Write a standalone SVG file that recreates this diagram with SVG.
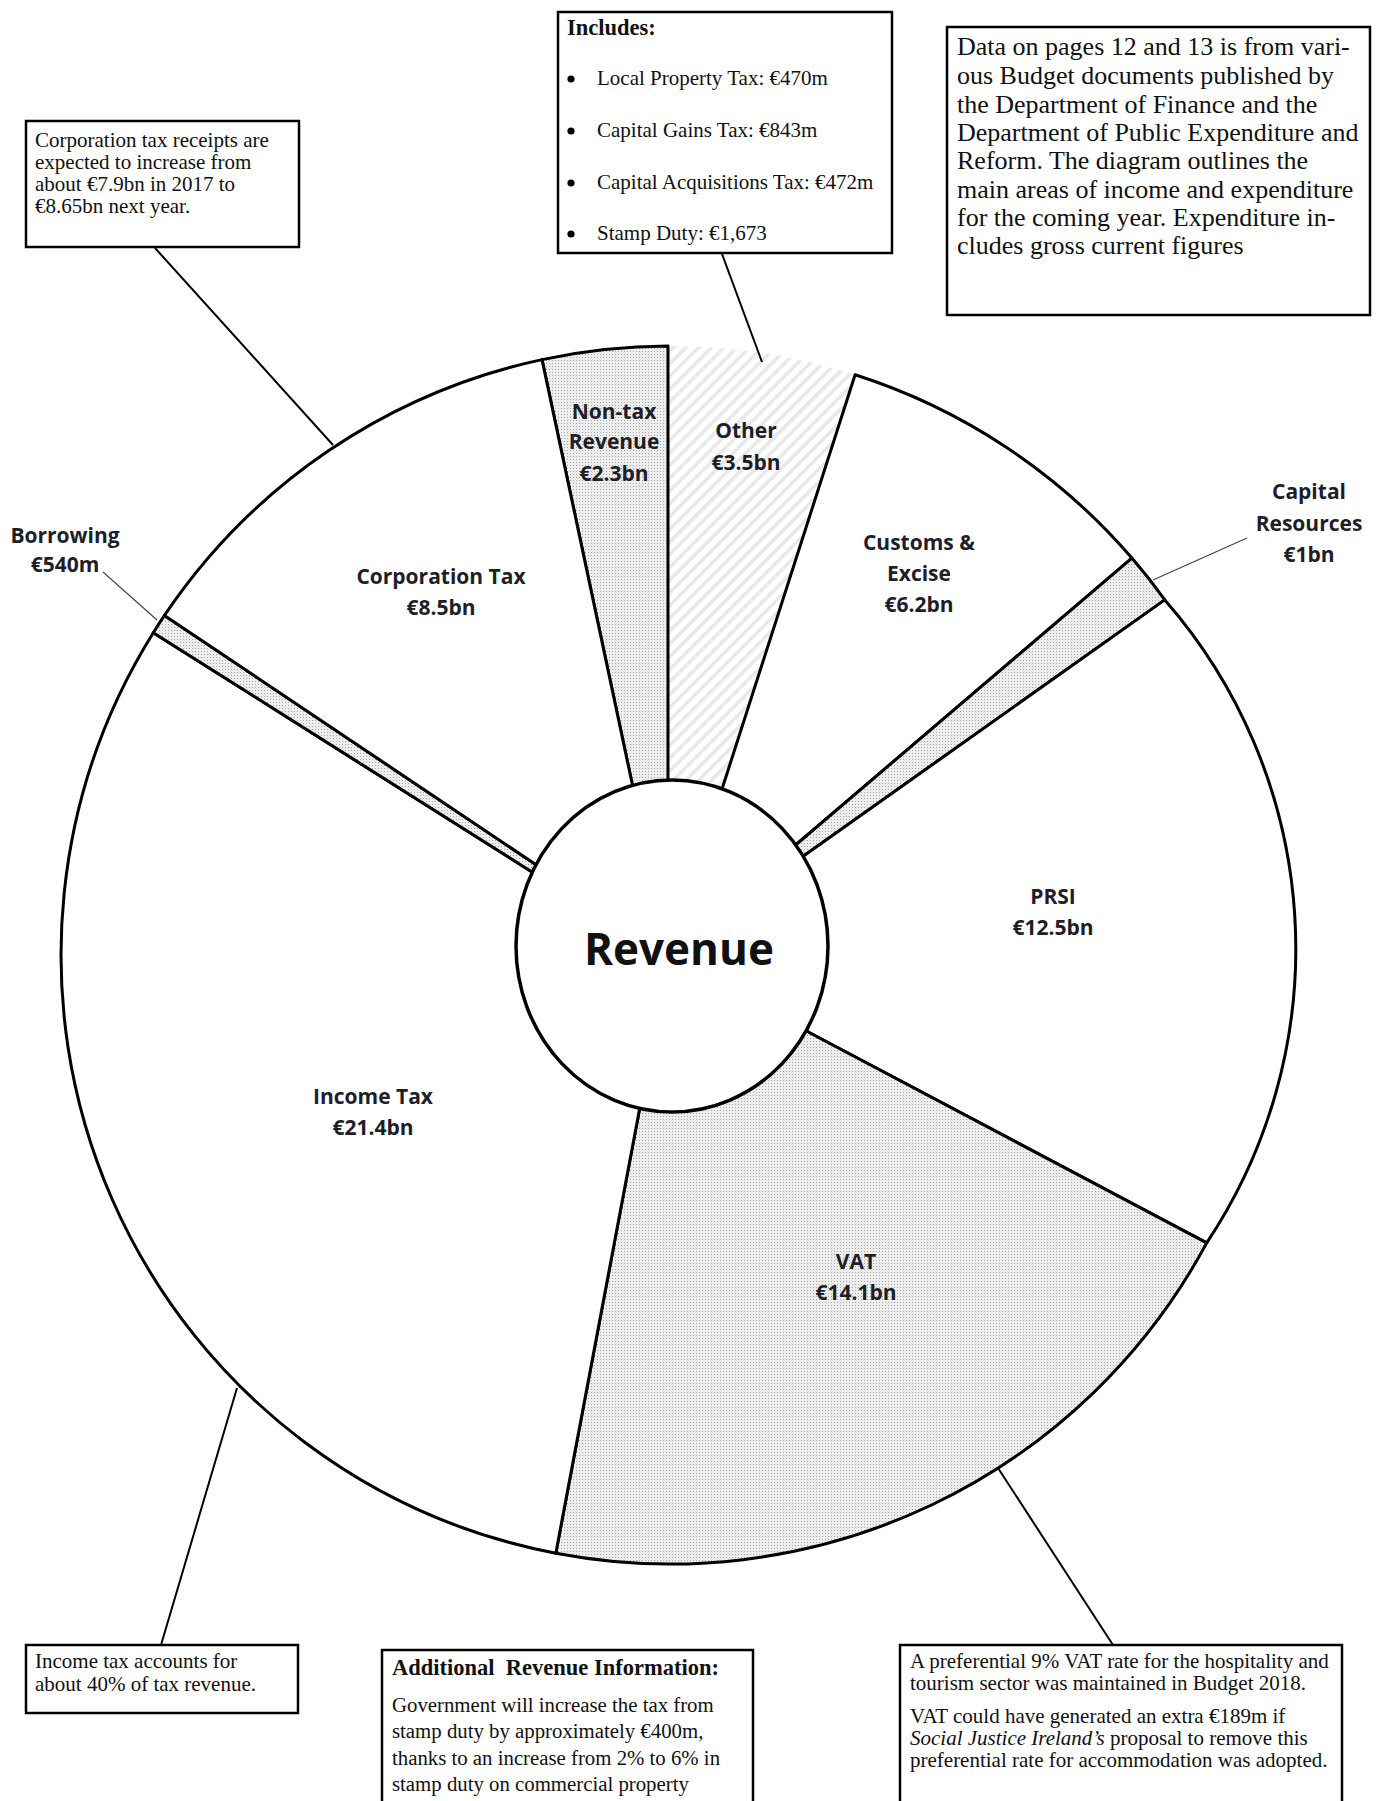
<svg xmlns="http://www.w3.org/2000/svg" width="1382" height="1801" viewBox="0 0 1382 1801">
<defs>
<pattern id="dots" width="3" height="3" patternUnits="userSpaceOnUse"><rect width="3" height="3" fill="#ededed"/><rect width="1" height="1" fill="#a8a8a8"/></pattern>
<pattern id="hatch" width="9" height="9" patternUnits="userSpaceOnUse" patternTransform="rotate(45)"><rect width="9" height="9" fill="#fff"/><rect width="3.5" height="9" fill="#e8e8e8"/></pattern>
</defs>
<style>
.seg{stroke:#000;stroke-width:3;stroke-linejoin:round}
.w{fill:#fff}
.d{fill:url(#dots)}
.lbl{font-family:"Open Sans","Noto Sans",sans-serif;font-weight:700;font-size:21px;fill:#1e1e28;text-anchor:middle}
.box{fill:#fff;stroke:#000;stroke-width:2.5}
.t{font-family:"Liberation Serif","Times New Roman",serif;fill:#111}
.tb{font-family:"Liberation Serif","Times New Roman",serif;font-weight:700;fill:#111}
.call{stroke:#000;stroke-width:2;fill:none}
.lead{stroke:#444;stroke-width:1.2;fill:none}
</style>
<rect width="1382" height="1801" fill="#fff"/>

<g id="segments">
<g id="other"><path d="M668,346 A609,609 0 0 1 855.1,374.8 L723,786 L672,946 L668,778 Z" fill="url(#hatch)"/></g>
<g id="non-tax"><path class="seg d" d="M542,359.6 A609,609 0 0 1 668,346 L668,778 L672,946 L632,783 Z"/></g>
<g id="customs"><path class="seg w" d="M855.1,374.8 A609,609 0 0 1 1131.9,558.1 L798,843 L672,946 L723,786 Z"/></g>
<g id="capital"><path class="seg d" d="M1131.9,558.1 A609,609 0 0 1 1164.8,599.9 L805,855 L672,946 L798,843 Z"/></g>
<g id="prsi"><path class="seg w" d="M1164.8,599.9 A530,530 0 0 1 1206.7,1242.9 L810,1033 L672,946 L805,855 Z"/></g>
<g id="vat"><path class="seg d" d="M1206.7,1242.9 A609,609 0 0 1 555.8,1553.2 L639,1112 L672,946 L810,1033 Z"/></g>
<g id="income"><path class="seg w" d="M555.8,1553.2 A609,609 0 0 1 153.3,632.7 L532,872 L672,946 L639,1112 Z"/></g>
<g id="borrowing"><path class="seg d" d="M153.3,632.7 A609,609 0 0 1 164.5,615.4 L535,864 L672,946 L532,872 Z"/></g>
<g id="corp"><path class="seg w" d="M164.5,615.4 A609,609 0 0 1 542,359.6 L632,783 L672,946 L535,864 Z"/></g>
</g>

<g id="revenue">
<ellipse cx="672" cy="946" rx="156" ry="166" fill="#fff" stroke="#000" stroke-width="3.5"/>
<text x="679" y="965" font-family="'Open Sans','Noto Sans',sans-serif" font-weight="700" font-size="44" fill="#111" text-anchor="middle">Revenue</text>
</g>

<g id="labels">
<text class="lbl" x="441" y="584">Corporation Tax</text>
<text class="lbl" x="441" y="615">€8.5bn</text>
<text class="lbl" x="614" y="419">Non-tax</text>
<text class="lbl" x="614" y="449">Revenue</text>
<text class="lbl" x="614" y="481">€2.3bn</text>
<text class="lbl" x="746" y="438">Other</text>
<text class="lbl" x="746" y="470">€3.5bn</text>
<text class="lbl" x="919" y="550">Customs &amp;</text>
<text class="lbl" x="919" y="581">Excise</text>
<text class="lbl" x="919" y="612">€6.2bn</text>
<text class="lbl" x="1309" y="499">Capital</text>
<text class="lbl" x="1309" y="531">Resources</text>
<text class="lbl" x="1309" y="562">€1bn</text>
<text class="lbl" x="65" y="543">Borrowing</text>
<text class="lbl" x="65" y="572">€540m</text>
<text class="lbl" x="1053" y="904">PRSI</text>
<text class="lbl" x="1053" y="935">€12.5bn</text>
<text class="lbl" x="856" y="1269">VAT</text>
<text class="lbl" x="856" y="1300">€14.1bn</text>
<text class="lbl" x="373" y="1104">Income Tax</text>
<text class="lbl" x="373" y="1135">€21.4bn</text>
</g>

<g id="connectors">
<line class="call" x1="155" y1="248" x2="333" y2="445"/>
<line class="call" x1="722" y1="254" x2="762" y2="362"/>
<line class="call" x1="161" y1="1645" x2="237" y2="1388"/>
<line class="call" x1="1113" y1="1645" x2="998" y2="1468"/>
<line class="lead" x1="103" y1="572" x2="157" y2="620"/>
<line class="lead" x1="1247" y1="538" x2="1153" y2="580"/>
</g>

<g id="box-corp">
<rect class="box" x="26" y="121" width="273" height="126"/>
<g class="t" font-size="21">
<text x="35" y="147">Corporation tax receipts are</text>
<text x="35" y="169">expected to increase from</text>
<text x="35" y="191">about €7.9bn in 2017 to</text>
<text x="35" y="213">€8.65bn next year.</text>
</g>
</g>

<g id="box-includes">
<rect class="box" x="558" y="12" width="334" height="241"/>
<text class="tb" x="567" y="35" font-size="22.5">Includes:</text>
<circle cx="571" cy="79" r="3.6"/>
<circle cx="571" cy="131" r="3.6"/>
<circle cx="571" cy="183" r="3.6"/>
<circle cx="571" cy="234" r="3.6"/>
<g class="t" font-size="21">
<text x="597" y="85">Local Property Tax: €470m</text>
<text x="597" y="137">Capital Gains Tax: €843m</text>
<text x="597" y="189">Capital Acquisitions Tax: €472m</text>
<text x="597" y="240">Stamp Duty: €1,673</text>
</g>
</g>

<g id="box-data">
<rect class="box" x="947" y="27" width="423" height="288"/>
<g class="t" font-size="26">
<text x="957" y="55">Data on pages 12 and 13 is from vari-</text>
<text x="957" y="84">ous Budget documents published by</text>
<text x="957" y="112.5">the Department of Finance and the</text>
<text x="957" y="141">Department of Public Expenditure and</text>
<text x="957" y="169">Reform. The diagram outlines the</text>
<text x="957" y="197.5">main areas of income and expenditure</text>
<text x="957" y="226">for the coming year. Expenditure in-</text>
<text x="957" y="254">cludes gross current figures</text>
</g>
</g>

<g id="box-income">
<rect class="box" x="26" y="1645" width="272" height="68"/>
<g class="t" font-size="21">
<text x="35" y="1668">Income tax accounts for</text>
<text x="35" y="1691">about 40% of tax revenue.</text>
</g>
</g>

<g id="box-additional">
<rect class="box" x="382" y="1650" width="371" height="170"/>
<text class="tb" x="392" y="1675" font-size="22.5" style="white-space:pre">Additional  Revenue Information:</text>
<g class="t" font-size="20.8">
<text x="392" y="1712">Government will increase the tax from</text>
<text x="392" y="1738">stamp duty by approximately €400m,</text>
<text x="392" y="1765">thanks to an increase from 2% to 6% in</text>
<text x="392" y="1791">stamp duty on commercial property</text>
</g>
</g>

<g id="box-vat">
<rect class="box" x="900" y="1645" width="442" height="170"/>
<g class="t" font-size="21">
<text x="910" y="1668">A preferential 9% VAT rate for the hospitality and</text>
<text x="910" y="1690">tourism sector was maintained in Budget 2018.</text>
<text x="910" y="1723">VAT could have generated an extra €189m if</text>
<text x="910" y="1745"><tspan font-style="italic">Social Justice Ireland’s</tspan> proposal to remove this</text>
<text x="910" y="1767">preferential rate for accommodation was adopted.</text>
</g>
</g>
</svg>
